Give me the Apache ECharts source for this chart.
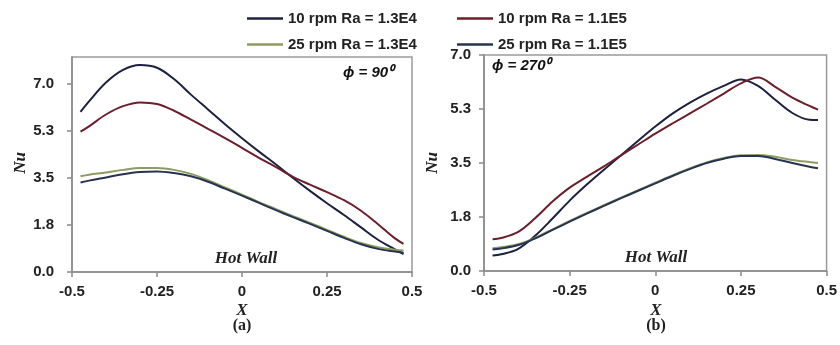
<!DOCTYPE html>
<html><head><meta charset="utf-8">
<script src="https://cdn.jsdelivr.net/npm/echarts@6/dist/echarts.min.js"></script>
<style>html,body{margin:0;padding:0;background:#fff}#c{width:840px;height:345px}</style>
</head><body><div id="c"></div>
<script>
// X positions along the hot wall
const xs = [-0.475,-0.45,-0.4,-0.35,-0.3,-0.25,-0.2,-0.15,-0.1,-0.05,0,0.05,0.1,0.15,0.2,0.25,0.3,0.35,0.4,0.45,0.475];
const seriesNames = ['10 rpm Ra = 1.3E4','10 rpm Ra = 1.1E5','25 rpm Ra = 1.3E4','25 rpm Ra = 1.1E5'];
const seriesColors = ['#1c2140','#6b1f2c','#8d9c62','#26344f'];
// (a) phi = 90
const a_10_13E4 = [5.96,6.35,7.05,7.52,7.70,7.60,7.18,6.60,6.05,5.50,4.98,4.48,4.00,3.50,3.02,2.56,2.12,1.66,1.20,0.84,0.67];
const a_10_11E5 = [5.22,5.42,5.86,6.17,6.31,6.25,6.00,5.67,5.33,4.98,4.62,4.25,3.90,3.54,3.25,2.97,2.67,2.28,1.78,1.25,1.05];
const a_25_13E4 = [3.56,3.62,3.70,3.80,3.87,3.87,3.80,3.65,3.42,3.15,2.88,2.60,2.34,2.08,1.83,1.57,1.31,1.08,0.92,0.83,0.80];
const a_25_11E5 = [3.33,3.40,3.52,3.64,3.72,3.74,3.68,3.56,3.36,3.10,2.84,2.57,2.30,2.04,1.79,1.53,1.27,1.03,0.86,0.76,0.72];
// (b) phi = 270
const b_10_13E4 = [0.50,0.54,0.72,1.15,1.70,2.28,2.80,3.28,3.75,4.22,4.68,5.10,5.45,5.75,6.00,6.21,6.00,5.55,5.12,4.90,4.89];
const b_10_11E5 = [1.03,1.07,1.27,1.72,2.25,2.70,3.05,3.39,3.75,4.10,4.45,4.78,5.10,5.42,5.75,6.08,6.27,5.97,5.62,5.35,5.23];
const b_25_13E4 = [0.74,0.77,0.87,1.08,1.35,1.62,1.88,2.13,2.38,2.62,2.86,3.10,3.32,3.52,3.66,3.75,3.76,3.70,3.60,3.53,3.50];
const b_25_11E5 = [0.70,0.73,0.84,1.06,1.33,1.60,1.86,2.11,2.36,2.60,2.84,3.08,3.30,3.50,3.64,3.73,3.73,3.63,3.50,3.38,3.33];
const xTicks = [-0.5,-0.25,0,0.25,0.5];
const yTicks = [0,1.75,3.5,5.25,7];

const panelA = [a_10_13E4,a_10_11E5,a_25_13E4,a_25_11E5];
const panelB = [b_10_13E4,b_10_11E5,b_25_13E4,b_25_11E5];

const chart = echarts.init(document.getElementById('c'));
const lblFont = {fontFamily:'Liberation Sans', fontWeight:'bold', fontSize:15, color:'#222'};
function xAxis(idx){
  return {type:'value', gridIndex:idx, min:-0.5, max:0.5, interval:0.25,
    axisLine:{show:true, onZero:false, lineStyle:{color:'#8a8a8a', width:1.5}},
    axisTick:{show:true, inside:false, length:5, customValues:xTicks, lineStyle:{color:'#8a8a8a', width:1.5}},
    axisLabel:Object.assign({margin:12, customValues:xTicks, formatter:v=>String(v)}, lblFont),
    splitLine:{show:false}};
}
function yAxis(idx,max,margin){
  return {type:'value', gridIndex:idx, min:0, max:max, interval:1.75,
    axisLine:{show:true, onZero:false, lineStyle:{color:'#8a8a8a', width:1.5}},
    axisTick:{show:true, length:5, customValues:yTicks, lineStyle:{color:'#8a8a8a', width:1.5}},
    axisLabel:Object.assign({margin:margin, customValues:yTicks, formatter:v=>v.toFixed(1)}, lblFont),
    splitLine:{show:false}};
}
const series = [];
[panelA,panelB].forEach((panel,g)=>{
  panel.forEach((arr,i)=>{
    series.push({name:seriesNames[i], type:'line', xAxisIndex:g, yAxisIndex:g,
      data:xs.map((x,k)=>[x,arr[k]]), smooth:0.35, showSymbol:false, symbol:'none',
      lineStyle:{color:seriesColors[i], width:2}, itemStyle:{color:seriesColors[i]}, z:[2,2,3,3][i]});
  });
});
const legendText = {fontFamily:'Liberation Sans', fontWeight:'bold', fontSize:15, color:'#222'};
const titleSerif = {fontFamily:'Liberation Serif', fontWeight:'bold', fontStyle:'italic', fontSize:17, fill:'#222'};
chart.setOption({
  animation:false,
  legend:[
    {data:[seriesNames[0],seriesNames[2]], left:242, top:6, orient:'vertical', itemGap:11,
      itemWidth:36, itemHeight:2.5, icon:'rect', textStyle:legendText, selectedMode:false},
    {data:[seriesNames[1],seriesNames[3]], left:452, top:6, orient:'vertical', itemGap:11,
      itemWidth:36, itemHeight:2.5, icon:'rect', textStyle:legendText, selectedMode:false}
  ],
  grid:[
    {left:72, top:57, width:340, height:215, show:true, borderColor:'#9a9a9a', borderWidth:1.5, backgroundColor:'transparent'},
    {left:484, top:55, width:343, height:216, show:true, borderColor:'#9a9a9a', borderWidth:1.5, backgroundColor:'transparent'}
  ],
  xAxis:[xAxis(0), xAxis(1)],
  yAxis:[yAxis(0,8,18), yAxis(1,7,13)],
  series:series,
  graphic:[
    {type:'text', left:12, top:152, rotation:Math.PI/2, style:Object.assign({text:'Nu', fontSize:16}, titleSerif)},
    {type:'text', left:424, top:152, rotation:Math.PI/2, style:Object.assign({text:'Nu', fontSize:16}, titleSerif)},
    {type:'text', x:242, y:311, style:Object.assign({text:'X', align:'center', verticalAlign:'middle'}, titleSerif)},
    {type:'text', x:656, y:311, style:Object.assign({text:'X', align:'center', verticalAlign:'middle'}, titleSerif)},
    {type:'text', x:242, y:326, style:{text:'(a)', align:'center', verticalAlign:'middle', fontFamily:'Liberation Serif', fontWeight:'bold', fontSize:16, fill:'#222'}},
    {type:'text', x:656, y:326, style:{text:'(b)', align:'center', verticalAlign:'middle', fontFamily:'Liberation Serif', fontWeight:'bold', fontSize:16, fill:'#222'}},
    {type:'text', x:246, y:259, style:Object.assign({text:'Hot Wall', align:'center', verticalAlign:'middle'}, titleSerif)},
    {type:'text', x:656, y:258, style:Object.assign({text:'Hot Wall', align:'center', verticalAlign:'middle'}, titleSerif)},
    {type:'text', x:343, y:73, style:{text:'ϕ = 90⁰', verticalAlign:'middle', fontFamily:'Liberation Sans', fontWeight:'bold', fontStyle:'italic', fontSize:15, fill:'#111'}},
    {type:'text', x:492, y:66, style:{text:'ϕ = 270⁰', verticalAlign:'middle', fontFamily:'Liberation Sans', fontWeight:'bold', fontStyle:'italic', fontSize:15, fill:'#111'}}
  ]
});
</script></body></html>
